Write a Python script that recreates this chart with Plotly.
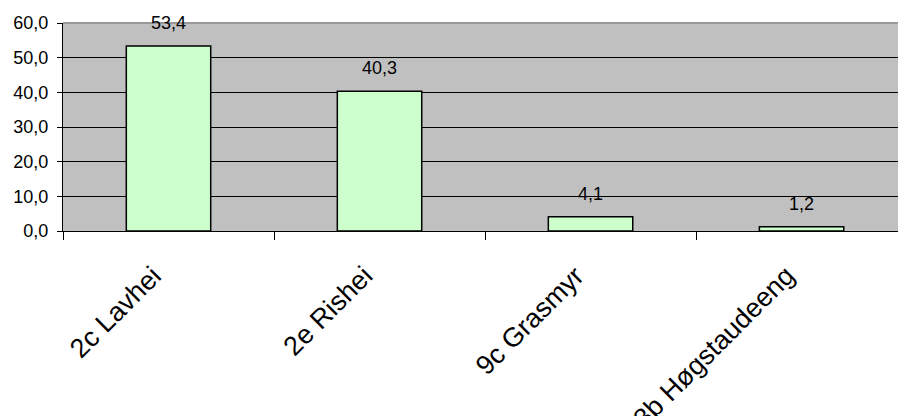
import plotly.graph_objects as go

# Habitat types and their share (%)
categories = ["2c Lavhei", "2e Rishei", "9c Grasmyr", "3b Høgstaudeeng"]
values = [53.4, 40.3, 4.1, 1.2]
y_ticks = [0, 10, 20, 30, 40, 50, 60]

FONT = "Arial, Liberation Sans, sans-serif"
X_RANGE = [-0.5, 3.457]

fig = go.Figure()
fig.add_trace(go.Bar(
    x=list(range(len(categories))),
    y=values,
    width=0.4,
    marker=dict(color="#CCFFCC", line=dict(color="#000000", width=1.5)),
    hoverinfo="skip",
))

# Value labels above each bar, decimal comma
for i, v in enumerate(values):
    fig.add_annotation(
        x=i, y=v, xref="x", yref="y",
        text=f"{v:.1f}".replace(".", ","),
        showarrow=False, yanchor="middle", yshift=23,
        font=dict(family=FONT, size=18, color="#000000"),
    )

# Slanted category names, each ending just under its bar
for i, name in enumerate(categories):
    fig.add_annotation(
        x=i, y=0, xref="x", yref="paper",
        text=name, textangle=-45,
        showarrow=False, xanchor="right", yanchor="top",
        xshift=2, yshift=-27,
        font=dict(family=FONT, size=27, color="#000000"),
    )

# Light grey frame line along the top of the plot area
fig.add_shape(type="line", xref="paper", yref="paper",
              x0=0, x1=1, y0=1, y1=1,
              line=dict(color="#999999", width=2), layer="above")

fig.update_layout(
    width=898, height=416,
    margin=dict(l=63, r=0, t=23, b=185),
    paper_bgcolor="#FFFFFF",
    plot_bgcolor="#C0C0C0",
    separators=", ",
    showlegend=False,
    font=dict(family=FONT, size=18, color="#000000"),
    xaxis=dict(
        range=X_RANGE,
        tickvals=[i - 0.5 for i in range(len(categories) + 1)],
        showticklabels=False,
        ticks="outside", ticklen=8, tickcolor="#000000", tickwidth=1,
        showline=True, linecolor="#000000", linewidth=1,
        showgrid=False, zeroline=False,
    ),
    yaxis=dict(
        range=[0, 60],
        tickvals=y_ticks,
        tickformat=".1f",
        ticks="outside", ticklen=5, tickcolor="#000000", tickwidth=1,
        showline=True, linecolor="#000000", linewidth=1,
        showgrid=True, gridcolor="#000000", gridwidth=1,
        zeroline=False,
        tickfont=dict(family=FONT, size=18, color="#000000"),
        ticklabelstandoff=5,
    ),
)

fig.write_html("out.html")
